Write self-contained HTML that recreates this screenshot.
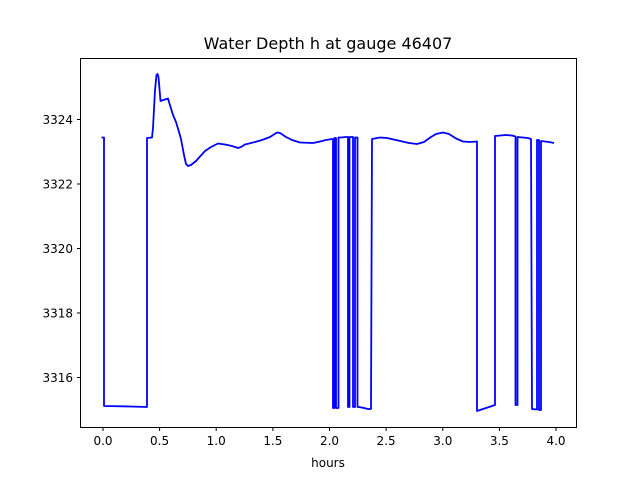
<!DOCTYPE html>
<html><head><style>body{margin:0;background:#fff}svg{display:block;font-family:"DejaVu Sans","Liberation Sans",sans-serif}</style></head><body>
<svg width="640" height="480" viewBox="0 0 640 480">
<rect width="640" height="480" fill="#fff"/>
<text x="328" y="49" font-size="16" text-anchor="middle">Water Depth h at gauge 46407</text>
<polyline fill="none" stroke="#0000ff" stroke-width="1.8" stroke-linejoin="round" points="
101.5,137.5 104,137.5 104,406 130,406.5 147,407 147,138 152,137.5 153,128 155,90 156.5,75 157.5,74 158.5,77 160.5,101 168,98.5 169,102 173,115 176,122 179,132 181,139 184,155 186,164 188,166 191,165 196,161 205,151 211,147 218,143.5 225,144.5 232,146 238,148 241,147 245,144.5 255,142 262,140 270,137 277,132.5 280,133 286,137 292,140 300,142.5 313,143 318,142 326,140 332,139 333,139 333,408 334.5,408 334.5,138 336,138 336,408 338.5,408 338.5,137.5 341,137.5 346,137 348,137 348,407 349.5,407 349.5,137 353,137 353,407 355,407 355,137.5 357.5,137.5 357.5,407 359,407 364,408 368,409 371,409 372,139 380,137.5 387,138 398,140.5 409,143 417,144 424,142 431,137 436,134 443,132.5 449,134 456,138.5 463,141.5 470,142 477,141.5 477,411 495,405 495,136 506,135 512,135.5 515.5,136.5 515.5,405 517.5,405 517.5,137 528,138 531,139 532,409 537,409.5 537,140 539,140 539,410 541,410 541,141 549,142 554,143"/>
<rect x="80.5" y="58.5" width="496" height="369" fill="none" stroke="#000" stroke-width="1"/>
<g stroke="#000" stroke-width="1">
<line x1="103" y1="427.5" x2="103" y2="431"/><line x1="159.6" y1="427.5" x2="159.6" y2="431"/><line x1="216.2" y1="427.5" x2="216.2" y2="431"/><line x1="272.9" y1="427.5" x2="272.9" y2="431"/><line x1="329.5" y1="427.5" x2="329.5" y2="431"/><line x1="386.1" y1="427.5" x2="386.1" y2="431"/><line x1="442.8" y1="427.5" x2="442.8" y2="431"/><line x1="499.4" y1="427.5" x2="499.4" y2="431"/><line x1="556" y1="427.5" x2="556" y2="431"/>
<line x1="77" y1="377.5" x2="80.5" y2="377.5"/><line x1="77" y1="313" x2="80.5" y2="313"/><line x1="77" y1="248.5" x2="80.5" y2="248.5"/><line x1="77" y1="184" x2="80.5" y2="184"/><line x1="77" y1="119.5" x2="80.5" y2="119.5"/>
</g>
<g font-size="12" text-anchor="middle">
<text x="103" y="445">0.0</text><text x="159.6" y="445">0.5</text><text x="216.2" y="445">1.0</text><text x="272.9" y="445">1.5</text><text x="329.5" y="445">2.0</text><text x="386.1" y="445">2.5</text><text x="442.8" y="445">3.0</text><text x="499.4" y="445">3.5</text><text x="556" y="445">4.0</text>
<text x="328" y="467">hours</text>
</g>
<g font-size="12" text-anchor="end">
<text x="73" y="382">3316</text><text x="73" y="317.5">3318</text><text x="73" y="253">3320</text><text x="73" y="188.5">3322</text><text x="73" y="124">3324</text>
</g>
</svg>
</body></html>
